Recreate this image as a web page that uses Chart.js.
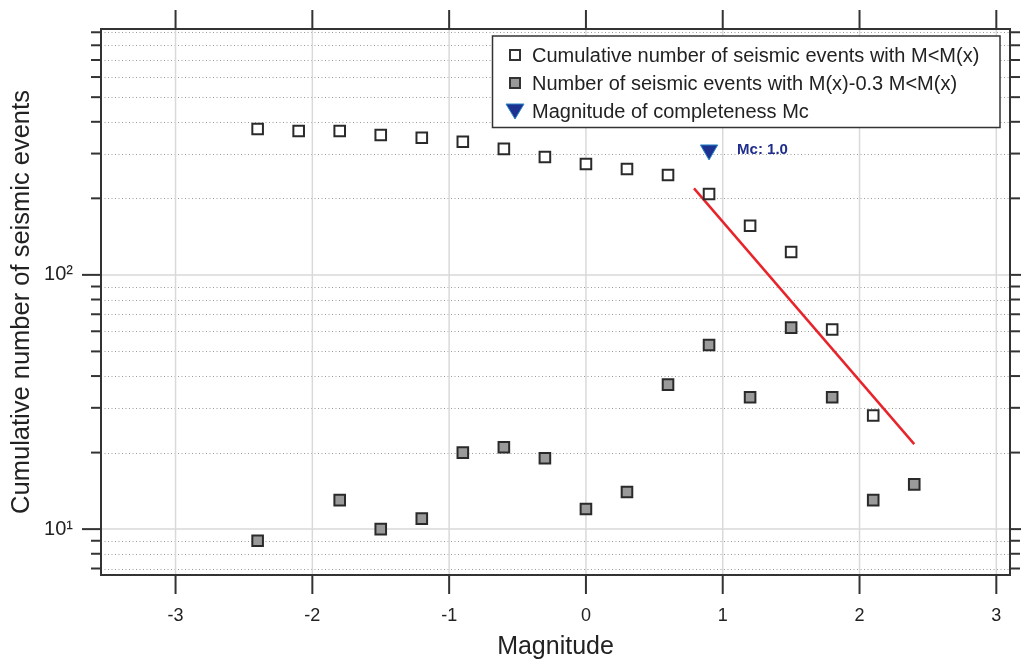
<!DOCTYPE html>
<html><head><meta charset="utf-8">
<script src="https://cdn.jsdelivr.net/npm/chart.js@4.4.1/dist/chart.umd.min.js"></script>
<style>html,body{margin:0;padding:0;background:#fff;}</style>
</head><body>
<canvas id="c" width="1021" height="660" style="display:block;width:1021px;height:660px"></canvas>
<script>
// ---- data ----
const magnitudes       = [-2.4,-2.1,-1.8,-1.5,-1.2,-0.9,-0.6,-0.3,0,0.3,0.6,0.9,1.2,1.5,1.8,2.1];
const cumulativeCounts = [375,368,368,355,346,334,313,291,273,261,247,208,156,123,61,28];
const binMagnitudes    = [-2.4,-1.8,-1.5,-1.2,-0.9,-0.6,-0.3,0,0.3,0.6,0.9,1.2,1.5,1.8,2.1,2.4];
const binCounts        = [9,13,10,11,20,21,19,12,14,37,53,33,62,33,13,15];
const mcMagnitude = [0.9];
const mcCount     = [310];
const mcLabel = 'Mc: 1.0';
const fitLineX = [0.79, 2.40];
const fitLineY = [219, 21.6];
const xTicks = [-3,-2,-1,0,1,2,3];
const yMajorTicks = [10,100];
const yMinorTicks = [7,8,9,20,30,40,50,60,70,80,90,200,300,400,500,600,700,800,900];
const yTickLabels = {10:'10\u00B9', 100:'10\u00B2'};
const legendLabels = ['Cumulative number of seismic events with M<M(x)','Number of seismic events with M(x)-0.3 M<M(x)','Magnitude of completeness Mc'];
const xTitle = 'Magnitude';
const yTitle = 'Cumulative number of seismic events';

const FONT = "'Liberation Sans', Arial, Helvetica, sans-serif";
const toXY = (xs, ys) => xs.map((x,i)=>({x:x, y:ys[i]}));

const decorPlugin = {
  id:'decor',
  beforeDatasetsDraw(chart){
    const {ctx, chartArea:a, scales:{x,y}} = chart;
    ctx.save();
    ctx.strokeStyle = '#9a9a9a'; ctx.lineWidth = 1; ctx.setLineDash([1,2.5]);
    yMinorTicks.forEach(v=>{ const p=Math.round(y.getPixelForValue(v))+0.5; ctx.beginPath(); ctx.moveTo(a.left,p); ctx.lineTo(a.right,p); ctx.stroke(); });
    ctx.setLineDash([]);
    ctx.strokeStyle = '#d9d9d9'; ctx.lineWidth = 1.5;
    yMajorTicks.forEach(v=>{ const p=y.getPixelForValue(v); ctx.beginPath(); ctx.moveTo(a.left,p); ctx.lineTo(a.right,p); ctx.stroke(); });
    xTicks.forEach(v=>{ const p=x.getPixelForValue(v); ctx.beginPath(); ctx.moveTo(p,a.top); ctx.lineTo(p,a.bottom); ctx.stroke(); });
    ctx.restore();
  },
  afterDraw(chart){
    const {ctx, chartArea:a, scales:{x,y}} = chart;
    ctx.save();
    ctx.strokeStyle = '#333'; ctx.lineWidth = 2;
    ctx.strokeRect(a.left, a.top, a.right-a.left, a.bottom-a.top);
    const seg=(x1,y1,x2,y2)=>{ctx.beginPath();ctx.moveTo(x1,y1);ctx.lineTo(x2,y2);ctx.stroke();};
    xTicks.forEach(v=>{ const p=x.getPixelForValue(v); seg(p,a.bottom,p,a.bottom+19); seg(p,a.top,p,a.top-19); });
    yMajorTicks.forEach(v=>{ const p=y.getPixelForValue(v); seg(a.left-19,p,a.left,p); seg(a.right,p,a.right+19,p); });
    yMinorTicks.forEach(v=>{ const p=y.getPixelForValue(v); seg(a.left-10,p,a.left,p); seg(a.right,p,a.right+10,p); });
    // Mc label
    const mx = x.getPixelForValue(mcMagnitude[0]), my = y.getPixelForValue(mcCount[0]);
    ctx.fillStyle = '#1f2d8c'; ctx.font = "bold 15px "+FONT; ctx.textBaseline='middle'; ctx.textAlign='left';
    ctx.fillText(mcLabel, mx+28, my);
    // legend
    const L=492.5,T=36,R=1000,B=127.5;
    ctx.fillStyle='#fff'; ctx.fillRect(L,T,R-L,B-T);
    ctx.strokeStyle='#333'; ctx.lineWidth=1.5; ctx.strokeRect(L,T,R-L,B-T);
    const rows=[55,83,111];
    const ds = chart.data.datasets;
    ctx.font = "20px "+FONT; ctx.fillStyle='#222';
    legendLabels.forEach((t,i)=>{ ctx.fillText(t, 532, rows[i]+1); });
    ctx.lineWidth=2; ctx.strokeStyle='#333';
    ctx.fillStyle=ds[0].pointBackgroundColor; ctx.fillRect(510,rows[0]-5,10,10); ctx.strokeRect(510,rows[0]-5,10,10);
    ctx.fillStyle=ds[1].pointBackgroundColor; ctx.fillRect(510,rows[1]-5,10,10); ctx.strokeRect(510,rows[1]-5,10,10);
    ctx.beginPath(); ctx.moveTo(506,rows[2]-7); ctx.lineTo(524,rows[2]-7); ctx.lineTo(515,rows[2]+8); ctx.closePath();
    ctx.fillStyle=ds[2].pointBackgroundColor; ctx.fill(); ctx.strokeStyle=ds[2].pointBorderColor; ctx.lineWidth=1; ctx.stroke();
    ctx.restore();
  }
};

new Chart(document.getElementById('c'), {
  type:'scatter',
  data:{ datasets:[
    { label:legendLabels[0], data:toXY(magnitudes,cumulativeCounts), pointStyle:'rect', pointRadius:7.5, pointHoverRadius:7.5,
      pointBackgroundColor:'#ffffff', pointBorderColor:'#2a2a2a', pointBorderWidth:2 },
    { label:legendLabels[1], data:toXY(binMagnitudes,binCounts), pointStyle:'rect', pointRadius:7.5, pointHoverRadius:7.5,
      pointBackgroundColor:'#9a9a9a', pointBorderColor:'#2a2a2a', pointBorderWidth:2 },
    { label:legendLabels[2], data:toXY(mcMagnitude,mcCount), pointStyle:'triangle', rotation:180, pointRadius:10, pointHoverRadius:10,
      pointBackgroundColor:'#1c3190', pointBorderColor:'#2a86c8', pointBorderWidth:1 },
    { label:'fit', data:toXY(fitLineX,fitLineY), showLine:true, borderColor:'#e8242b', borderWidth:2.5, pointRadius:0 }
  ]},
  options:{
    responsive:false, animation:false, devicePixelRatio:1,
    layout:{padding:{left:0,top:29,right:10,bottom:0}},
    plugins:{legend:{display:false}, tooltip:{enabled:false}},
    scales:{
      x:{ type:'linear', min:-3.545, max:3.10,
        afterBuildTicks:s=>{ s.ticks = xTicks.map(v=>({value:v})); },
        afterFit:s=>{ s.height = 85; s.paddingLeft = 0; s.paddingRight = 0; },
        grid:{display:false}, border:{display:false},
        ticks:{ autoSkip:false, maxRotation:0, padding:22, color:'#222', font:{family:FONT,size:18}, callback:v=>String(v) },
        title:{ display:true, text:xTitle, color:'#222', font:{family:FONT,size:25,lineHeight:1}, padding:{top:0,bottom:0} }
      },
      y:{ type:'logarithmic', min:6.6, max:927,
        afterBuildTicks:s=>{ s.ticks = yMinorTicks.concat(yMajorTicks).sort((a,b)=>a-b).map(v=>({value:v})); },
        afterFit:s=>{ s.width = 101; s.paddingTop = 0; s.paddingBottom = 0; },
        grid:{display:false}, border:{display:false},
        ticks:{ autoSkip:false, padding:20, color:'#222', font:{family:FONT,size:20}, callback:v=>yTickLabels[v]||'' },
        title:{ display:true, text:yTitle, color:'#222', font:{family:FONT,size:25.5,lineHeight:1}, padding:{top:9,bottom:0} }
      }
    }
  },
  plugins:[decorPlugin]
});
</script>
</body></html>
